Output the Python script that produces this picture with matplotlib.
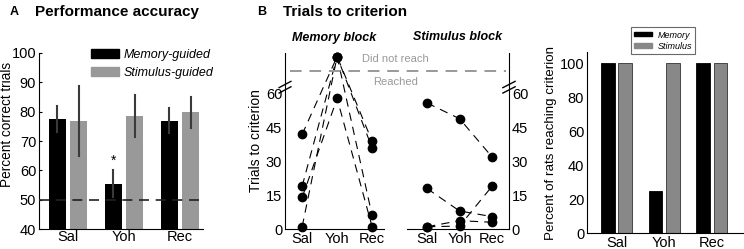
import matplotlib
matplotlib.use("Agg")
import matplotlib.pyplot as plt
import matplotlib.transforms as mtransforms
from matplotlib.patches import Patch
import numpy as np

plt.rcParams['font.family'] = ['Liberation Sans', 'DejaVu Sans']

groups = ["Sal", "Yoh", "Rec"]

# Panel A: performance accuracy (% correct)
acc_memory = [77.5, 55.5, 76.8]
acc_memory_lo = [73.0, 50.8, 72.6]
acc_memory_hi = [82.0, 60.2, 81.1]
acc_stimulus = [76.8, 78.6, 79.9]
acc_stimulus_lo = [65.0, 71.3, 74.6]
acc_stimulus_hi = [88.9, 85.8, 85.0]

# Panel B: trials to criterion per rat (value above break = did not reach)
mem_rat1 = [42, 76.6, 39]
mem_rat2 = [19, 76.6, 36]
mem_rat3 = [14, 58, 1]
mem_rat4 = [1, 76.6, 6]
stim_rat1 = [56, 49, 32]
stim_rat2 = [18, 8, 5.5]
stim_rat3 = [1, 3.7, 3]
stim_rat4 = [1, 1.3, 19]
trial_ticks = [0, 15, 30, 45, 60]

# Panel C: percent of rats reaching criterion
reach_memory = [100, 25, 100]
reach_stimulus = [100, 100, 100]

W, H = 744, 249
fig = plt.figure(figsize=(W / 100, H / 100), dpi=100)

def rect(x0, y0, x1, y1):
    return [x0 / W, 1 - y1 / H, (x1 - x0) / W, (y1 - y0) / H]

x = np.arange(3)
TFS = 10.5
LFS = 10

# ---------------- Panel A ----------------
axA = fig.add_axes(rect(39, 53, 203, 229))
off, bw = 0.19, 0.30
axA.bar(x - off, acc_memory, bw, color='black', zorder=2)
axA.bar(x + off, acc_stimulus, bw, color='#999999', zorder=2)
for xi, lo, hi in zip(x - off, acc_memory_lo, acc_memory_hi):
    axA.plot([xi, xi], [lo, hi], color='#3a3a3a', lw=1.5, zorder=3)
for xi, lo, hi in zip(x + off, acc_stimulus_lo, acc_stimulus_hi):
    axA.plot([xi, xi], [lo, hi], color='#3a3a3a', lw=1.5, zorder=3)
axA.axhline(50, color='#222222', lw=1.2, dashes=(6, 4), zorder=4)
axA.text(1 - off, 60.8, '*', ha='center', va='bottom', fontsize=10)
axA.set_ylim(40, 100)
axA.set_xlim(-0.52, 2.41)
axA.set_yticks([40, 50, 60, 70, 80, 90, 100])
axA.set_xticks(x)
axA.set_xticklabels(groups)
axA.tick_params(axis='both', labelsize=TFS, length=2, direction='in', pad=2)
axA.tick_params(axis='x', length=0, pad=1)
for s in ['top', 'right']:
    axA.spines[s].set_visible(False)
axA.set_ylabel('Percent correct trials', fontsize=9.8)
axA.yaxis.set_label_coords(14 / W, 0.5, transform=fig.transFigure)
axA.legend(handles=[Patch(color='black', label='Memory-guided'),
                    Patch(color='#999999', label='Stimulus-guided')],
           loc='upper left', bbox_to_anchor=(91 / W, 1 - 49 / H),
           bbox_transform=fig.transFigure, frameon=False,
           prop={'style': 'italic', 'size': 9}, handlelength=2.2,
           handleheight=0.7, handletextpad=0.4, labelspacing=0.45,
           borderpad=0, borderaxespad=0)
fig.text(10 / W, 1 - 12 / H, 'A', fontsize=9, fontweight='bold', va='center')
fig.text(35 / W, 1 - 12 / H, 'Performance accuracy', fontsize=11,
         fontweight='bold', va='center')

# ---------------- Panel B ----------------
ymax = 78.2
dash = (7.5, 5.5)
axM = fig.add_axes(rect(285, 53, 384, 229))
axS = fig.add_axes(rect(407, 53, 509, 229))
for ax in (axM, axS):
    ax.patch.set_visible(False)
for r in [mem_rat1, mem_rat2, mem_rat3, mem_rat4]:
    axM.plot(x, r, color='black', lw=0.8, dashes=dash, marker='o', ms=6,
             clip_on=False, zorder=3)
axM.set_xlim(-0.49, 2.34)
axM.set_ylim(0, ymax)
axM.set_yticks(trial_ticks)
axM.set_xticks(x)
axM.set_xticklabels(groups)
axM.tick_params(axis='both', labelsize=TFS, length=0, pad=2)
for s in ['top', 'right']:
    axM.spines[s].set_visible(False)
axM.set_ylabel('Trials to criterion', fontsize=LFS, labelpad=2)
axM.set_title('Memory block', fontsize=9, fontweight='bold', style='italic', pad=9)

for r in [stim_rat1, stim_rat2, stim_rat3, stim_rat4]:
    axS.plot(x, r, color='black', lw=0.8, dashes=dash, marker='o', ms=6,
             clip_on=False, zorder=3)
axS.set_xlim(-0.615, 2.52)
axS.set_ylim(0, ymax)
axS.set_yticks(trial_ticks)
axS.yaxis.tick_right()
axS.set_xticks(x)
axS.set_xticklabels(groups)
axS.tick_params(axis='both', labelsize=TFS, length=0, pad=2)
for s in ['top', 'left']:
    axS.spines[s].set_visible(False)
axS.set_title('Stimulus block', fontsize=9, fontweight='bold', style='italic', pad=9)

# shared "did not reach" line
tr = mtransforms.blended_transform_factory(fig.transFigure, axM.transData)
fig.add_artist(plt.Line2D([290 / W, 506 / W], [70.2, 70.2], transform=tr,
                          color='#999999', lw=1.4, dashes=(6, 4), zorder=1))
fig.text(395 / W, 1 - 59 / H, 'Did not reach', ha='center', va='center',
         fontsize=8, color='#999999')
fig.text(396 / W, 1 - 82 / H, 'Reached', ha='center', va='center',
         fontsize=8, color='#999999')

# break marks
for ax, xa in [(axM, 0.0), (axS, 1.0)]:
    trb = mtransforms.blended_transform_factory(ax.transAxes, ax.transData)
    for dy in [-1.2, 1.2]:
        ax.plot([xa - 0.06, xa + 0.06], [63 + dy - 1.4, 63 + dy + 1.4],
                transform=trb, color='black', lw=1.0, clip_on=False)

fig.text(257 / W, 1 - 12 / H, 'B', fontsize=9, fontweight='bold', va='center')
fig.text(283 / W, 1 - 12 / H, 'Trials to criterion', fontsize=11,
         fontweight='bold', va='center')

# ---------------- Panel C ----------------
axC = fig.add_axes(rect(587, 52, 744, 233))
offc, bwc = 0.184, 0.285
axC.bar(x - offc, reach_memory, bwc, color='black', edgecolor='black', lw=0.6)
axC.bar(x + offc, reach_stimulus, bwc, color='#888888', edgecolor='#333333', lw=0.6)
axC.set_ylim(0, 106.5)
axC.set_xlim(-0.62, 2.68)
axC.set_yticks([0, 20, 40, 60, 80, 100])
axC.set_xticks(x)
axC.set_xticklabels(groups)
axC.tick_params(axis='both', labelsize=TFS, length=0, pad=2)
for s in ['top', 'right']:
    axC.spines[s].set_visible(False)
axC.set_ylabel('Percent of rats reaching criterion', fontsize=9.6, labelpad=2)
legC = axC.legend(handles=[Patch(color='black', label='Memory'),
                           Patch(color='#888888', label='Stimulus')],
                  loc='lower center', bbox_to_anchor=(663 / W, 1 - 54 / H),
                  bbox_transform=fig.transFigure, frameon=True, fancybox=False,
                  prop={'style': 'italic', 'size': 6.5}, handlelength=2.0,
                  handleheight=0.35, handletextpad=0.6, labelspacing=0.25,
                  borderpad=0.35, borderaxespad=0)
legC.get_frame().set_edgecolor('#444444')
legC.get_frame().set_linewidth(0.8)

fig.savefig('out.png', dpi=100)
